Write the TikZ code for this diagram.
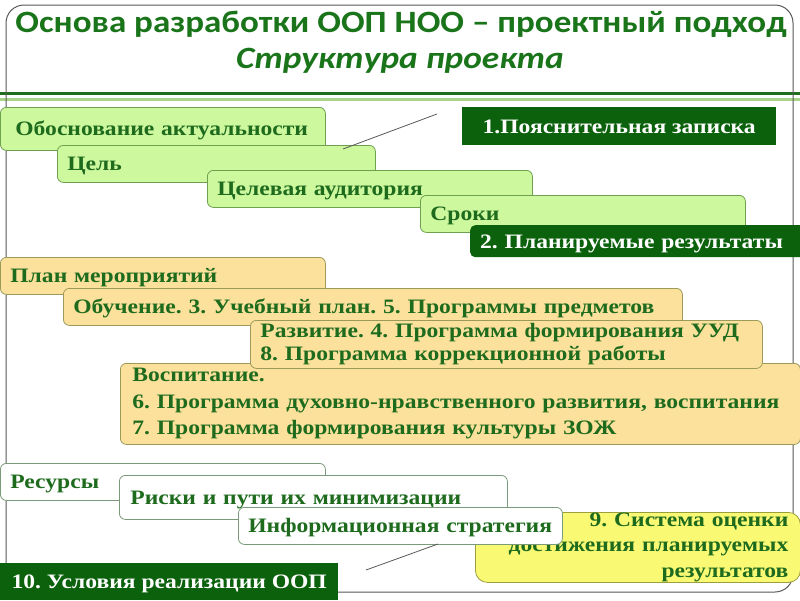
\documentclass[tikz,border=0pt]{standalone}
\usepackage{fontspec}
\setmainfont{Liberation Serif}
\newfontfamily\titlefont[FakeStretch=1.13]{Carlito}
\newfontfamily\subtitlefont[FakeStretch=1.14]{Carlito}
\newfontfamily\boxfont[FakeStretch=1.15]{Liberation Serif}
\definecolor{titlegreen}{HTML}{1A751A}
\definecolor{boxtext}{HTML}{1E6B1E}
\definecolor{darkbox}{HTML}{0C620C}
\definecolor{lgfill}{HTML}{CDF89E}
\definecolor{lgdraw}{HTML}{6FA050}
\definecolor{tanfill}{HTML}{FBE19B}
\definecolor{tandraw}{HTML}{9C9A5A}
\definecolor{wdraw}{HTML}{7A9A7A}
\definecolor{yfill}{HTML}{F9F974}
\definecolor{ydraw}{HTML}{9CA03C}
\definecolor{sepdark}{HTML}{1F6E1F}
\definecolor{seplight}{HTML}{A9D38A}
\tikzset{
  bx/.style={draw, rounded corners=6pt, line width=0.8pt, anchor=north west,
    inner xsep=10pt, inner ysep=0pt, align=left, text=boxtext,
    font=\boxfont\bfseries\fontsize{20.5}{24}\selectfont},
  oneline/.style={text height=14pt, text depth=0pt},
  gbx/.style={bx, oneline, fill=lgfill, draw=lgdraw},
  tbx/.style={bx, fill=tanfill, draw=tandraw},
  wbx/.style={bx, oneline, fill=white, draw=wdraw},
  ybx/.style={bx, fill=yfill, draw=ydraw, rounded corners=12pt, align=right},
  dbx/.style={oneline, fill=darkbox, anchor=north west, inner xsep=0pt, inner ysep=0pt,
    text=white, font=\boxfont\bfseries\fontsize{20.5}{24}\selectfont},
  thin line/.style={draw=black!65, line width=0.8pt},
}
\begin{document}
\frenchspacing
\begin{tikzpicture}[x=1pt,y=-1pt]
\useasboundingbox (0,0) rectangle (800,600);
\fill[white] (0,0) rectangle (800,600);
% separator lines
\draw[sepdark, line width=3pt] (0,93.5) -- (800,93.5);
\draw[seplight, line width=3pt] (0,99.7) -- (800,99.7);
% frame
\draw[black!65, line width=1pt, rounded corners=18pt] (6,5) rectangle (793,592);
% title
\node[font=\titlefont\bfseries\fontsize{31}{36}\selectfont, text=titlegreen, anchor=base, inner sep=0pt] (title) at (401,32) {Основа разработки ООП НОО – проектный подход};
\node[font=\subtitlefont\bfseries\itshape\fontsize{31}{36}\selectfont, text=titlegreen, anchor=base, inner sep=0pt] (subtitle) at (400,68) {Структура проекта};
% green group
\node[gbx, inner xsep=15pt, minimum height=43pt, text width=295pt] (obosn) at (0,107) {Обоснование актуальности};
\node[gbx, minimum height=37pt, text width=298pt] (goal) at (57,145) {Цель};
\node[gbx, minimum height=37pt, text width=305pt] (aud) at (207,170) {Целевая аудитория};
\node[gbx, minimum height=37pt, text width=305pt] (terms) at (420,195) {Сроки};
\node[dbx, minimum width=314pt, minimum height=38pt] (note) at (462,107) {1.Пояснительная записка};
\node[dbx, rounded corners=5pt, minimum height=32pt, text width=320pt, inner xsep=10pt, align=left] (plan) at (470,225) {2. Планируемые результаты};
\coordinate (l1a) at (343,149);
\coordinate (l1b) at (437,114);
\draw[thin line] (l1a) -- (l1b);
% tan group
\node[tbx, oneline, minimum height=37pt, text width=305pt] (events) at (0,257) {План мероприятий};
\node[tbx, oneline, minimum height=37pt, text width=599pt] (learn) at (63,288) {Обучение. 3. Учебный план. 5. Программы предметов};
\node[tbx, inner xsep=12pt, minimum height=81pt, text width=656pt, font=\boxfont\bfseries\fontsize{20.5}{26.5}\selectfont] (vosp) at (120,363) {Воспитание.\\6. Программа духовно-нравственного развития, воспитания\\7. Программа формирования культуры ЗОЖ};
\node[tbx, minimum height=48pt, text width=492pt, font=\boxfont\bfseries\fontsize{20.5}{23}\selectfont] (razv) at (250,320) {Развитие. 4. Программа формирования УУД\\8. Программа коррекционной работы};
% white group
\node[wbx, minimum height=37pt, text width=305pt] (res) at (0,463) {Ресурсы};
\node[wbx, inner xsep=11pt, minimum height=44pt, text width=366pt] (risk) at (119,475) {Риски и пути их минимизации};
\node[ybx, inner xsep=12pt, minimum height=70pt, text width=301pt, font=\boxfont\bfseries\fontsize{20.5}{25.5}\selectfont] (eval) at (475,512) {9. Система оценки\\достижения планируемых\\результатов};
\node[wbx, minimum height=37pt, text width=304pt] (info) at (238,507) {Информационная стратегия};
\coordinate (l2a) at (366,570);
\coordinate (l2b) at (438,544);
\draw[thin line] (l2a) -- (l2b);
\node[dbx, minimum width=338pt, minimum height=37pt] (cond) at (0,563) {10. Условия реализации ООП};
\end{tikzpicture}
\end{document}
